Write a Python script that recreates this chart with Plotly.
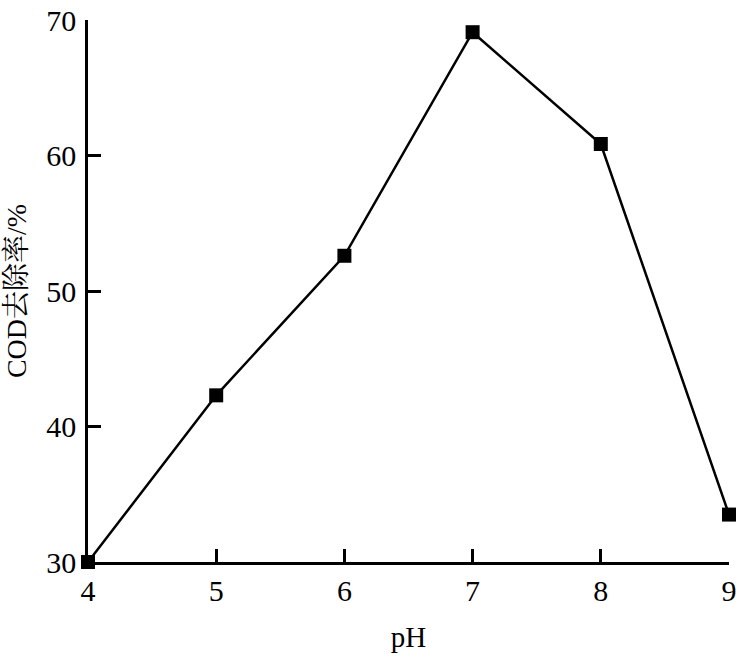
import plotly.graph_objects as go

ph = [4, 5, 6, 7, 8, 9]
cod_removal = [30.0, 42.3, 52.6, 69.1, 60.85, 33.5]
x_ticks = [4, 5, 6, 7, 8, 9]
y_ticks = [30, 40, 50, 60, 70]

font_family = "Liberation Serif, Times New Roman, Noto Serif CJK SC, Noto Sans CJK SC, serif"

fig = go.Figure()
fig.add_trace(go.Scatter(
    x=ph, y=cod_removal, mode="lines+markers",
    line=dict(color="black", width=2.5),
    marker=dict(symbol="square", size=14, color="black"),
    cliponaxis=False, showlegend=False, hoverinfo="skip",
))

axis_common = dict(
    showline=True, linecolor="black", linewidth=2.7,
    ticks="inside", ticklen=13, tickwidth=2.5, tickcolor="black",
    showgrid=False, zeroline=False, mirror=False, automargin=False,
    tickfont=dict(family=font_family, size=30, color="black"),
)

fig.update_layout(
    width=756, height=666,
    margin=dict(l=88, r=27, t=20, b=104),
    plot_bgcolor="white", paper_bgcolor="white",
    font=dict(family=font_family, color="black"),
    xaxis=dict(range=[4, 9], tickvals=x_ticks,
               title=dict(text="pH", font=dict(family=font_family, size=29), standoff=21),
               **axis_common),
    yaxis=dict(range=[30, 70], tickvals=y_ticks, ticklabelstandoff=3,
               title=dict(text="COD去除率/%", font=dict(family=font_family, size=28), standoff=12),
               **axis_common),
)

fig.write_html("out.html", config={"displayModeBar": False},
               post_script="document.body.style.margin='0';")
